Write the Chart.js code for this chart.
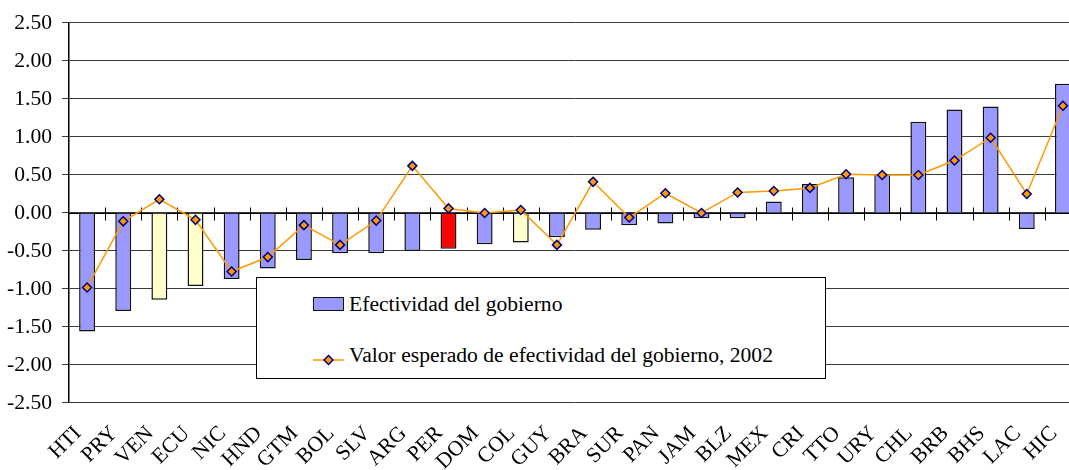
<!DOCTYPE html>
<html>
<head>
<meta charset="utf-8">
<script src="https://cdn.jsdelivr.net/npm/chart.js@4.4.1/dist/chart.umd.min.js"></script>
<style>
  html, body { margin: 0; padding: 0; background: #fff; overflow: hidden; }
  #wrap { position: relative; width: 1100px; height: 470px; }
  #legend {
    position: absolute; left: 256px; top: 277px; width: 568px; height: 100px;
    border: 1px solid #000; background: #fff;
    font-family: "Liberation Serif", serif; font-size: 21.6px; color: #000;
  }
  .item { position: absolute; left: 56px; height: 24px; display: flex; align-items: center; }
  .item .sw { width: 31px; height: 14px; display: inline-block; margin-right: 5px; position: relative; }
  .item span { white-space: nowrap; }
</style>
</head>
<body>
<div id="wrap">
  <canvas id="chart"></canvas>
  <div id="legend"></div>
</div>
<script>
// Countries / regions
const categories = ['HTI', 'PRY', 'VEN', 'ECU', 'NIC', 'HND', 'GTM', 'BOL', 'SLV', 'ARG', 'PER', 'DOM', 'COL', 'GUY',
  'BRA', 'SUR', 'PAN', 'JAM', 'BLZ', 'MEX', 'CRI', 'TTO', 'URY', 'CHL', 'BRB', 'BHS', 'LAC', 'HIC']

// Government effectiveness (bars)
const effectiveness = [-1.56, -1.29, -1.14, -0.96, -0.87, -0.73, -0.62, -0.53, -0.53, -0.50, -0.47, -0.41, -0.39, -0.32,
  -0.22, -0.16, -0.14, -0.07, -0.07, 0.15, 0.38, 0.47, 0.51, 1.20, 1.36, 1.40, -0.21, 1.70]

// Expected value, 2002 (line)
const expected = [-0.98, -0.11, 0.18, -0.09, -0.77, -0.58, -0.16, -0.42, -0.10, 0.62, 0.06, 0.00, 0.04, -0.42,
  0.41, -0.06, 0.26, 0.00, 0.27, 0.29, 0.33, 0.51, 0.50, 0.50, 0.69, 0.99, 0.25, 1.41]

const yTicks = [-2.5, -2.0, -1.5, -1.0, -0.5, 0, 0.5, 1.0, 1.5, 2.0, 2.5]

const paleGroup = ['VEN', 'ECU', 'COL']
const redGroup = ['PER']

const barColors = categories.map(c => {
  if (redGroup.includes(c)) return '#FF0000'
  if (paleGroup.includes(c)) return '#FFFFCC'
  return '#9999FF'
})

Chart.defaults.font.family = '"Liberation Serif", serif'
Chart.defaults.font.size = 21.6
Chart.defaults.color = '#000'

// Zero line with cross ticks between categories
const zeroAxis = {
  id: 'zeroAxis',
  beforeDatasetsDraw (chart) {
    const { ctx, chartArea, scales: { x, y } } = chart
    const y0 = Math.round(y.getPixelForValue(0)) + 0.5
    ctx.save()
    ctx.strokeStyle = '#000'
    ctx.lineWidth = 1
    ctx.beginPath()
    ctx.moveTo(chartArea.left, y0)
    ctx.lineTo(chartArea.right, y0)
    for (let i = 1; i <= categories.length; i++) {
      const px = Math.round(x.getPixelForValue(i - 0.5)) + 0.5
      ctx.moveTo(px, y0 - 6)
      ctx.lineTo(px, y0 + 7)
    }
    ctx.stroke()
    ctx.restore()
  }
}

const myChart = new Chart(document.querySelector('#chart').getContext('2d'), {
  data: {
    labels: categories,
    datasets: [
      {
        type: 'bar',
        label: 'Efectividad del gobierno',
        data: effectiveness,
        backgroundColor: barColors,
        borderColor: '#111',
        borderWidth: 1.5,
        barPercentage: 0.44,
        categoryPercentage: 1,
        order: 1
      },
      {
        type: 'line',
        label: 'Valor esperado de efectividad del gobierno, 2002',
        data: expected,
        borderColor: '#FF9900',
        borderWidth: 1.5,
        pointStyle: 'rectRot',
        pointRadius: 4.5,
        pointBackgroundColor: '#FF9900',
        pointBorderColor: '#000080',
        pointBorderWidth: 1.5,
        tension: 0,
        order: 0
      }
    ]
  },
  options: {
    responsive: true,
    maintainAspectRatio: false,
    animation: false,
    layout: { padding: { left: 0, top: 20, right: 19, bottom: 0 } },
    plugins: {
      legend: { display: false },
      tooltip: { enabled: false }
    },
    scales: {
      x: {
        type: 'category',
        offset: true,
        grid: { display: false },
        border: { display: false },
        ticks: {
          minRotation: 45,
          maxRotation: 45,
          padding: 10,
          labelOffset: -9,
          autoSkip: false
        },
        afterFit: scale => { scale.height = 67 }
      },
      y: {
        min: -2.5,
        max: 2.5,
        afterBuildTicks: scale => { scale.ticks = yTicks.map(v => ({ value: v })) },
        grid: { color: '#3a3a3a', lineWidth: 1, tickLength: 7, drawTicks: true },
        border: { display: true, color: '#000', width: 1.5 },
        ticks: {
          padding: 10,
          callback: v => Number(v).toFixed(2)
        },
        afterFit: scale => { scale.width = 69 }
      }
    }
  },
  plugins: [zeroAxis]
})

// Legend box built from the dataset labels
const legend = document.querySelector('#legend')
myChart.data.datasets.forEach((ds, i) => {
  const item = document.createElement('div')
  item.className = 'item'
  item.style.top = (i === 0 ? 14 : 65) + 'px'
  const sw = document.createElement('span')
  sw.className = 'sw'
  if (ds.type === 'bar') {
    sw.style.boxSizing = 'border-box'
    sw.style.border = '1.5px solid #111'
    sw.style.background = '#9999FF'
  } else {
    sw.innerHTML = '<svg width="31" height="14"><line x1="0" y1="7" x2="31" y2="7" stroke="#FF9900" stroke-width="1.5"/>' +
      '<polygon points="15.5,2.5 20,7 15.5,11.5 11,7" fill="#FF9900" stroke="#000080" stroke-width="1.5"/></svg>'
  }
  const txt = document.createElement('span')
  txt.textContent = ds.label
  item.appendChild(sw)
  item.appendChild(txt)
  legend.appendChild(item)
})
</script>
</body>
</html>
